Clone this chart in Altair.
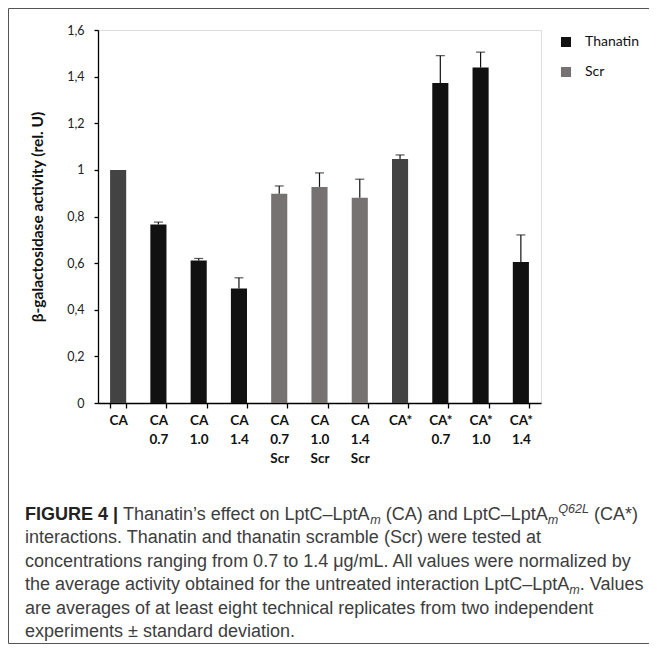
import altair as alt
import pandas as pd

# ---- data ----
categories = ["CA", "CA 0.7", "CA 1.0", "CA 1.4", "CA 0.7 Scr", "CA 1.0 Scr",
              "CA 1.4 Scr", "CA*", "CA* 0.7", "CA* 1.0", "CA* 1.4"]
groups = ["Control", "Thanatin", "Thanatin", "Thanatin", "Scr", "Scr",
          "Scr", "Control", "Thanatin", "Thanatin", "Thanatin"]
values = [1.0, 0.766, 0.611, 0.491, 0.898, 0.927, 0.880, 1.047, 1.373, 1.439, 0.605]
errors = [0.0, 0.010, 0.009, 0.046, 0.033, 0.060, 0.080, 0.017, 0.117, 0.066, 0.116]
y_ticks = [0, 0.2, 0.4, 0.6, 0.8, 1.0, 1.2, 1.4, 1.6]
legend_items = ["Thanatin", "Scr"]

df = pd.DataFrame({"cat": categories, "group": groups, "val": values, "err": errors})
df["hi"] = df["val"] + df["err"]

W, H = 443, 373
AX_FONT = "Lato"

x_enc = alt.X("cat:N", sort=categories,
              scale=alt.Scale(paddingInner=0.6, paddingOuter=0.3),
              axis=alt.Axis(title=None, labelAngle=0, labelExpr="split(datum.label, ' ')",
                            labelFont=AX_FONT, labelFontWeight="bold", labelFontSize=13.5,
                            labelLineHeight=19, labelColor="#111", labelPadding=5,
                            tickBand="extent", tickSize=5, tickColor="#000",
                            domainColor="#000", domainWidth=1.3, tickWidth=1.3))

bars = alt.Chart(df).mark_bar().encode(
    x=x_enc,
    y=alt.Y("val:Q", scale=alt.Scale(domain=[0, 1.6]),
            axis=alt.Axis(values=y_ticks, grid=False,
                          labelExpr="replace(format(datum.value, '~g'), '.', ',')",
                          labelFont=AX_FONT, labelFontSize=12.5, labelColor="#222",
                          labelPadding=10, tickSize=4, tickColor="#000", tickWidth=1.3,
                          domainColor="#000", domainWidth=1.3,
                          title="β-galactosidase activity (rel. U)", titleFont=AX_FONT,
                          titleFontWeight="bold", titleFontSize=15.5, titleColor="#111",
                          titlePadding=21)),
    color=alt.Color("group:N",
                    scale=alt.Scale(domain=["Thanatin", "Scr", "Control"],
                                    range=["#111111", "#777272", "#434343"]),
                    legend=alt.Legend(values=legend_items, title=None, orient="none",
                                      legendX=461, legendY=5, symbolType="square",
                                      symbolSize=100, symbolStrokeWidth=0,
                                      labelFont=AX_FONT, labelFontSize=14, labelColor="#111",
                                      rowPadding=16, padding=0, labelOffset=12)),
)

err_base = alt.Chart(df).transform_filter("datum.err > 0")
err_rule = err_base.mark_rule(color="#111", strokeWidth=1.2).encode(
    x=alt.X("cat:N", sort=categories), y="val:Q", y2="hi:Q")
err_cap = err_base.mark_tick(color="#111", thickness=1.2, size=9).encode(
    x=alt.X("cat:N", sort=categories), y="hi:Q")

# ---- caption (rich text built from segments) ----
FS = 18
SUB = 12.6
CAP_FONT = "Liberation Sans"
REG = {" ": 278, "a": 556, "b": 556, "c": 500, "d": 556, "e": 556, "f": 278, "g": 556,
       "h": 556, "i": 222, "l": 222, "m": 833, "n": 556, "o": 556, "p": 556, "r": 333,
       "s": 500, "t": 278, "u": 556, "v": 500, "w": 722, "y": 500, "A": 667, "C": 722,
       "L": 556, "Q": 778, "T": 611, "V": 667, "(": 333, ")": 333, "*": 389, "–": 556,
       "’": 222, ".": 278, "0": 556, "1": 556, "2": 556, "4": 556, "6": 556, "7": 556}
BOLD = {"F": 611, "I": 278, "G": 778, "U": 722, "R": 722, "E": 667, " ": 278, "4": 556,
        "|": 280}


def tw(s, size, table=REG):
    return sum(table.get(ch, 556) for ch in s) * size / 1000.0


def txt(s, x, y, size=FS, weight="normal", style="normal", color="#3d3d3d"):
    return alt.Chart(alt.Data(values=[{}])).mark_text(
        text=s, align="left", baseline="alphabetic", font=CAP_FONT, fontSize=size,
        fontWeight=weight, fontStyle=style, color=color).encode(
        x=alt.value(x), y=alt.value(y))


X0 = -73          # caption left edge (relative to plot origin)
Y0 = 490          # first caption baseline
LH = 23.4
SP = tw(" ", FS)

cap_layers = []
# line 1
x = X0
seg_bold = "FIGURE 4 |"
cap_layers.append(txt(seg_bold, x, Y0, weight="bold", color="#222"))
x += tw(seg_bold, FS, BOLD) + SP
s = "Thanatin’s effect on LptC–LptA"
cap_layers.append(txt(s, x, Y0)); x += tw(s, FS)
cap_layers.append(txt("m", x, Y0 + 4, size=SUB, style="italic")); x += tw("m", SUB) + SP
s = "(CA) and LptC–LptA"
cap_layers.append(txt(s, x, Y0)); x += tw(s, FS)
cap_layers.append(txt("m", x, Y0 + 4, size=SUB, style="italic")); x += tw("m", SUB)
cap_layers.append(txt("Q62L", x, Y0 - 7, size=SUB, style="italic")); x += tw("Q62L", SUB) + SP
cap_layers.append(txt("(CA*)", x, Y0))

cap_layers.append(txt("interactions. Thanatin and thanatin scramble (Scr) were tested at", X0, Y0 + LH))
cap_layers.append(txt("concentrations ranging from 0.7 to 1.4 μg/mL. All values were normalized by", X0, Y0 + 2 * LH))
s = "the average activity obtained for the untreated interaction LptC–LptA"
cap_layers.append(txt(s, X0, Y0 + 3 * LH))
x = X0 + tw(s, FS)
cap_layers.append(txt("m", x, Y0 + 3 * LH + 4, size=SUB, style="italic"))
x += tw("m", SUB)
cap_layers.append(txt(". Values", x, Y0 + 3 * LH))
cap_layers.append(txt("are averages of at least eight technical replicates from two independent", X0, Y0 + 4 * LH))
cap_layers.append(txt("experiments ± standard deviation.", X0, Y0 + 5 * LH))

# ---- frame (left, top, bottom) ----
frame_src = alt.Chart(alt.Data(values=[{}]))
frame = [
    frame_src.mark_rule(color="#555", strokeWidth=1).encode(
        x=alt.value(-89.5), y=alt.value(-21.5), y2=alt.value(613.5)),
    frame_src.mark_rule(color="#555", strokeWidth=1).encode(
        x=alt.value(-89.5), x2=alt.value(W + 108), y=alt.value(-21.5)),
    frame_src.mark_rule(color="#555", strokeWidth=1).encode(
        x=alt.value(-89.5), x2=alt.value(W + 108), y=alt.value(613.5)),
]

chart = alt.layer(bars, err_rule, err_cap, *cap_layers, *frame).properties(
    width=W, height=H,
    autosize=alt.AutoSizeParams(type="none"),
    padding={"left": 90, "top": 22, "right": 108, "bottom": 241},
).configure_view(stroke=None).configure(background="white")

chart.save("out.html", embed_options={"renderer": "svg", "actions": False})
